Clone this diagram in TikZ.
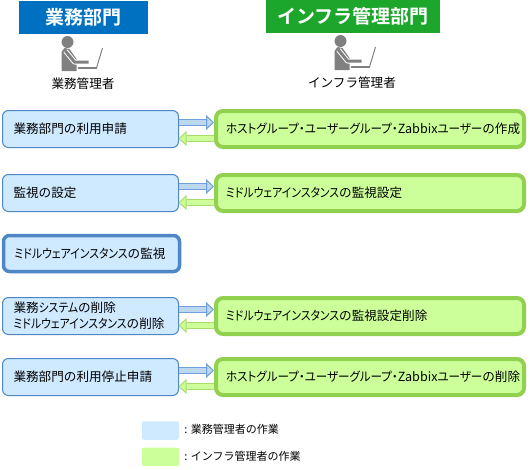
\documentclass[tikz,border=0pt]{standalone}
\usepackage{fontspec}
\setmainfont{Noto Sans CJK JP}[BoldFont={Noto Sans CJK JP Bold}]
\newfontfamily\kanafont{Noto Sans CJK JP}[RawFeature=+palt,FakeStretch=0.86]
\newfontfamily\widekanafont{Noto Sans CJK JP}[RawFeature=+palt,FakeStretch=0.915]
\newcommand{\kn}[1]{{\kanafont #1}}
\newcommand{\kw}[1]{{\widekanafont #1}}
\usetikzlibrary{positioning,arrows.meta}
\definecolor{userfill}{HTML}{CFE9FF}
\definecolor{userline}{HTML}{4F86C6}
\definecolor{infrafill}{HTML}{CCFF99}
\definecolor{infraline}{HTML}{92D050}
\definecolor{headblue}{HTML}{0070C0}
\definecolor{headgreen}{HTML}{1CA62C}
\definecolor{mangrey}{HTML}{808080}
\definecolor{arrowfill}{HTML}{BDD7EE}
\definecolor{arrowline}{HTML}{6FA0DC}
\definecolor{backline}{HTML}{A9DC70}
\tikzset{
  userbox/.style={draw=userline,fill=userfill,line width=1pt,rounded corners=6pt,outer sep=0pt,
    minimum width=176pt,minimum height=37pt,inner xsep=11pt,inner ysep=2pt,text width=154pt,align=left},
  infrabox/.style={draw=infraline,fill=infrafill,line width=4pt,rounded corners=7pt,outer sep=0pt,
    minimum width=308pt,minimum height=36pt,inner xsep=10pt,inner ysep=2pt,text width=288pt,align=left},
  headbox/.style={text=white,font=\bfseries\fontsize{19}{21}\selectfont,minimum height=33pt,inner sep=0pt},
  toinfra/.style={line width=1pt,double=arrowfill,double distance=5pt,draw=arrowline,shorten >=2pt,
    -{Triangle[length=8pt,width=15pt,fill=arrowfill,color=arrowline,line width=1pt]}},
  touser/.style={line width=1pt,double=infrafill,double distance=5pt,draw=backline,shorten <=2pt,
    -{Triangle[length=8pt,width=15pt,fill=infrafill,color=backline,line width=1pt]}},
  legendbox/.style={rounded corners=2pt,minimum width=37pt,minimum height=18.5pt,inner sep=0pt},
  legendtext/.style={font=\fontsize{11}{13}\selectfont,inner sep=0pt},
  operator/.pic={
    \fill[mangrey] (0,0) circle (6);
    \fill[mangrey] (-6,10) -- (-3,6) -- (2,7) -- (9,17) -- (9,29) -- (-6,29) -- cycle;
    \draw[white,line width=5pt,line join=round] (-2,9) -- (7,20) -- (22,20);
    \draw[mangrey,line width=3pt,line join=round] (-2,9) -- (7,20) -- (21,20);
    \draw[mangrey,line width=2pt] (10,25.5) -- (29,25.5);
    \draw[mangrey,line width=1pt] (35,6) -- (29,26);
  }
}
\begin{document}
\begin{tikzpicture}[x=1pt,y=-1pt,>=Stealth,node distance=26pt and 37.5pt,
   every node/.style={font=\fontsize{12.6}{16}\selectfont}]
  \useasboundingbox (0,0) rectangle (530,469);
  \node (dept) [headbox,fill=headblue,minimum width=129pt] at (83.5,17) {業務部門};
  \node (infra) [headbox,fill=headgreen,minimum width=174pt] at (353,16.5) {インフラ管理部門};
  \pic at (67.5,42) {operator};
  \pic at (340.5,41) {operator};
  \node (deptuser) at (83,84) {業務管理者};
  \node (infrauser) at (352,83) {インフラ管理者};
  \node (l1) [userbox] at (90.5,129) {業務部門の利用申請};
  \node (l2) [userbox,below=27pt of l1] {監視の設定};
  \node (l3) [userbox,below=24pt of l2,xshift=1pt,line width=3.5pt,minimum height=36pt] {\kn{ミドルウェアインスタンス}の監視};
  \node (l4) [userbox,below=26pt of l3,xshift=-1pt] {業務\kn{システム}の削除\\\kn{ミドルウェアインスタンス}の削除};
  \node (l5) [userbox,below=24pt of l4] {業務部門の利用停止申請};
  \node (r1) [infrabox,right=of l1] {\kw{ホストグループ・ユーザーグループ・}Zabbix\kw{ユーザー}の作成};
  \node (r2) [infrabox,right=of l2] {\kn{ミドルウェアインスタンス}の監視設定};
  \node (r4) [infrabox,right=of l4] {\kn{ミドルウェアインスタンス}の監視設定削除};
  \node (r5) [infrabox,right=of l5] {\kw{ホストグループ・ユーザーグループ・}Zabbix\kw{ユーザー}の削除};
  \draw[toinfra] ([yshift=6.5pt]l1.east) -- ([yshift=6.5pt]r1.west);
  \draw[touser] ([yshift=-9.5pt]r1.west) -- ([yshift=-9.5pt]l1.east);
  \draw[toinfra] ([yshift=6.5pt]l2.east) -- ([yshift=6.5pt]r2.west);
  \draw[touser] ([yshift=-9.5pt]r2.west) -- ([yshift=-9.5pt]l2.east);
  \draw[toinfra] ([yshift=6.5pt]l4.east) -- ([yshift=6.5pt]r4.west);
  \draw[touser] ([yshift=-9.5pt]r4.west) -- ([yshift=-9.5pt]l4.east);
  \draw[toinfra] ([yshift=6.5pt]l5.east) -- ([yshift=6.5pt]r5.west);
  \draw[touser] ([yshift=-9.5pt]r5.west) -- ([yshift=-9.5pt]l5.east);
  \node (keyuser) [legendbox,fill=userfill] at (160.5,430.5) {};
  \node (keyinfra) [legendbox,fill=infrafill,below=7.5pt of keyuser] {};
  \node (keyusertext) [legendtext,right=5pt of keyuser,yshift=1pt] {:\hspace{3.5pt}業務管理者の作業};
  \node (keyinfratext) [legendtext,right=5pt of keyinfra,yshift=1pt] {:\hspace{3.5pt}インフラ管理者の作業};
\end{tikzpicture}
\end{document}
